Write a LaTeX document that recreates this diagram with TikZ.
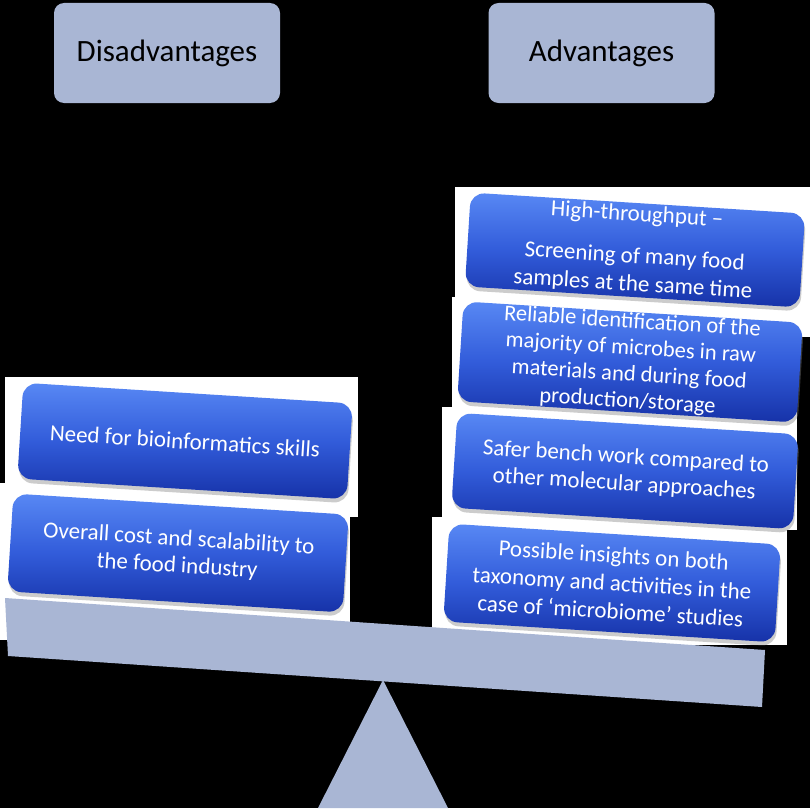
\documentclass[tikz,border=0pt]{standalone}
\usepackage{fontspec}
\setmainfont{Carlito}
\usetikzlibrary{shadows}
\definecolor{steel}{RGB}{169,182,212}
\definecolor{btop}{RGB}{88,136,244}
\definecolor{bmid}{RGB}{50,92,218}
\definecolor{bbot}{RGB}{22,50,168}
\tikzset{
  header/.style={fill=steel, rounded corners=10pt, minimum width=226pt, minimum height=100pt,
    font=\fontsize{31}{36}\selectfont, inner sep=0pt},
  prosbox/.style={rounded corners=14pt, top color=btop, bottom color=bbot, middle color=bmid,
    text=white, align=center, font=\fontsize{23}{27}\selectfont, inner sep=0pt,
    drop shadow={shadow xshift=1pt, shadow yshift=-4pt, opacity=0.4}, rotate=-3.6},
  whitebg/.style={fill=white},
  steelshape/.style={fill=steel}
}
\begin{document}
\begin{tikzpicture}[x=1pt,y=-1pt]
\fill[black] (0,0) rectangle (810,808);
\useasboundingbox (0,0) rectangle (810,808);
% white backgrounds
\fill[whitebg] (5,377) rectangle (358,517);
\fill[whitebg] (0,483) rectangle (350,640);
\fill[whitebg] (455,187) rectangle (810,337);
\fill[whitebg] (452,297) rectangle (793,443);
\fill[whitebg] (442,407) rectangle (797,530);
\fill[whitebg] (432,517) rectangle (787,645);
% fulcrum and beam
\fill[steelshape] (383,680) -- (448,808) -- (318,808) -- cycle;
\fill[steelshape] (5,598) -- (765,650) -- (762,707) -- (8,656) -- cycle;
% headers
\node[header] (dis) at (167,53) {Disadvantages};
\node[header] (adv) at (601.5,53) {Advantages};
% left boxes
\node[prosbox, minimum width=330pt, minimum height=96pt] (l1) at (185,441) {Need for bioinformatics skills};
\node[prosbox, minimum width=336pt, minimum height=98pt] (l2) at (178,553) {Overall cost and scalability to\\the food industry};
% right boxes
\node[prosbox, minimum width=335pt, minimum height=94pt, font=\fontsize{23}{28}\selectfont] (r1) at (635,250) {High-throughput –\\[14pt]Screening of many food\\samples at the same time};
\node[prosbox, minimum width=340pt, minimum height=100pt, font=\fontsize{22.5}{26.5}\selectfont] (r2) at (630,362) {Reliable identification of the\\majority of microbes in raw\\materials and during food\\production/storage};
\node[prosbox, minimum width=342pt, minimum height=95pt] (r3) at (625,471) {Safer bench work compared to\\other molecular approaches};
\node[prosbox, minimum width=332pt, minimum height=98pt, font=\fontsize{23}{28}\selectfont] (r4) at (612,583) {Possible insights on both\\taxonomy and activities in the\\case of ‘microbiome’ studies};
\end{tikzpicture}
\end{document}
